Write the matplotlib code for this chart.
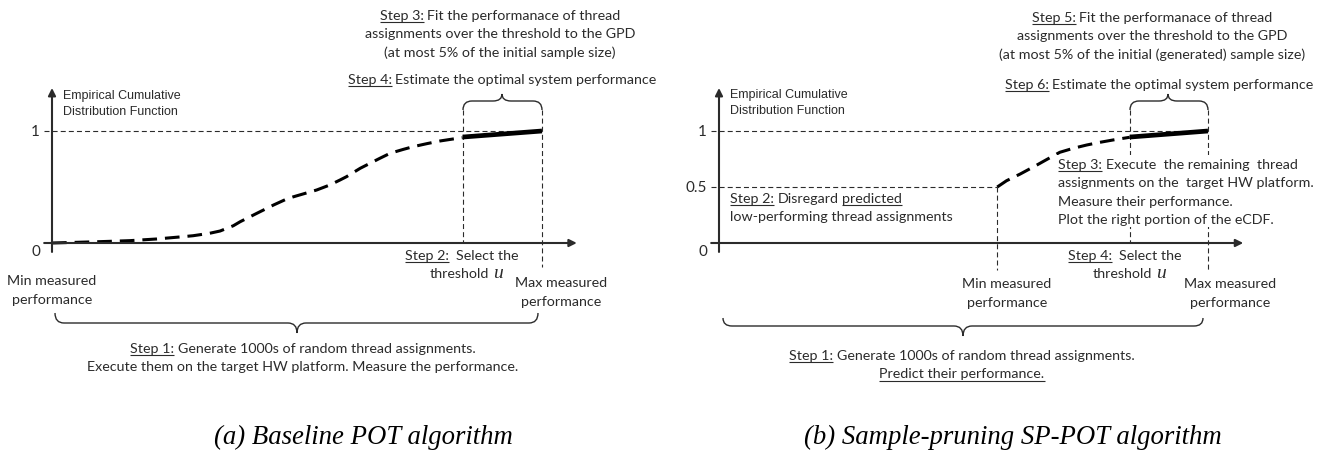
import matplotlib

matplotlib.use("Agg")
import matplotlib.pyplot as plt
from matplotlib.path import Path
from matplotlib.patches import PathPatch, Rectangle

W, H = 1326, 453

# eCDF curves; performance normalised so 0 = y axis, 1 = max measured performance
PERF_A = [0.0, 0.05, 0.098, 0.159, 0.214, 0.261, 0.288, 0.322, 0.343, 0.370, 0.384, 0.418,
          0.452, 0.479, 0.493, 0.540, 0.567, 0.588, 0.601, 0.629, 0.642, 0.669, 0.690, 0.717,
          0.737, 0.765, 0.792, 0.819, 0.838]
ECDF_A = [0.0, 0.006, 0.012, 0.021, 0.036, 0.054, 0.065, 0.087, 0.107, 0.154, 0.190, 0.265,
          0.339, 0.393, 0.413, 0.473, 0.518, 0.563, 0.592, 0.667, 0.696, 0.756, 0.801, 0.836,
          0.860, 0.887, 0.911, 0.929, 0.940]
TAIL_PERF_A = [0.838, 1.0]
TAIL_ECDF_A = [0.946, 1.0]

PERF_B = [0.569, 0.588, 0.616, 0.650, 0.677, 0.697, 0.724, 0.752, 0.779, 0.806, 0.840]
ECDF_B = [0.5, 0.556, 0.616, 0.696, 0.762, 0.810, 0.845, 0.875, 0.899, 0.920, 0.944]
TAIL_PERF_B = [0.840, 1.0]
TAIL_ECDF_B = [0.946, 1.0]

THRESH_A, THRESH_B = 0.838, 0.840
MIN_B = 0.569
PRUNE_LEVEL = 0.5

INK = "#2b2b2b"
STEP_FONT = "Lato"
STEP_SIZE = 10.3
GUIDE = dict(color=INK, lw=0.8, ls=(0, (4.5, 2.8)), clip_on=False)
U_STYLE = dict(family="Liberation Serif", style="italic", size=14)


def panel_axes(fig, x0, x1, y0, y1):
    """Axes whose unit square is the plot region given in pixels (y0 = ecdf 0, y1 = ecdf 1)."""
    ax = fig.add_axes([x0 / W, 1 - y0 / H, (x1 - x0) / W, (y0 - y1) / H])
    ax.set_xlim(0, 1)
    ax.set_ylim(0, 1)
    ax.axis("off")
    return ax


def draw_axes_arrows(ax, x_start, x_tip, y_bottom, y_tip):
    kw = dict(arrowstyle="-|>", lw=1.5, color=INK, mutation_scale=11, shrinkA=0, shrinkB=0)
    ax.annotate("", xy=(x_tip, 0), xytext=(x_start, 0), arrowprops=kw, annotation_clip=False)
    ax.annotate("", xy=(0, y_tip), xytext=(0, y_bottom), arrowprops=kw, annotation_clip=False)


def brace(ax, x0, x1, xm, y_end, y_bar, y_tip, r=9):
    verts = [(x0, y_end), (x0, y_bar), (x0 + r, y_bar),
             (xm - r, y_bar), (xm, y_bar), (xm, y_tip),
             (xm, y_bar), (xm + r, y_bar),
             (x1 - r, y_bar), (x1, y_bar), (x1, y_end)]
    codes = [Path.MOVETO, Path.CURVE3, Path.CURVE3,
             Path.LINETO, Path.CURVE3, Path.CURVE3,
             Path.CURVE3, Path.CURVE3,
             Path.LINETO, Path.CURVE3, Path.CURVE3]
    ax.add_patch(PathPatch(Path(verts, codes), fc="none", ec=INK, lw=1.0))


def font_kw(size, extra=None):
    kw = dict(fontsize=size, family=STEP_FONT)
    if extra:
        kw = dict(fontsize=extra.get("size", size), family=extra.get("family", STEP_FONT),
                  style=extra.get("style", "normal"))
    return kw


def text_width(ax, s, kw):
    t = ax.text(0, 0, s, **kw)
    w = t.get_window_extent(renderer).width
    t.remove()
    return w


def rich_line(ax, x, y, segs, ha="center", size=STEP_SIZE):
    """segs: list of (text, underline[, style]). Spaces between segments are explicit in text."""
    base_kw = font_kw(size)
    sp = text_width(ax, "a a", base_kw) - text_width(ax, "aa", base_kw)
    parts = []
    for seg in segs:
        s, under = seg[0], seg[1]
        kw = font_kw(size, seg[2] if len(seg) > 2 else None)
        core = s.strip(" ")
        w = text_width(ax, core, kw) if core else 0
        lead = len(s) - len(s.lstrip(" "))
        trail = len(s) - len(s.rstrip(" "))
        parts.append((core, under, kw, w, lead, trail))
    total = sum(w + (lead + trail) * sp for _, _, _, w, lead, trail in parts)
    cx = x - total / 2 if ha == "center" else x
    base = y + 5
    for core, under, kw, w, lead, trail in parts:
        cx += lead * sp
        if core:
            ax.text(cx, base, core, ha="left", va="baseline", color=INK, **kw)
            if under:
                ax.plot([cx, cx + w], [base + 2.2, base + 2.2], color=INK, lw=0.8,
                        solid_capstyle="butt")
        cx += w + trail * sp


def block(ax, x, y0, lines, ha="center", step=18.3, size=STEP_SIZE):
    for i, segs in enumerate(lines):
        xi = x[i] if isinstance(x, (list, tuple)) else x
        if isinstance(segs, str):
            segs = [(segs, False)]
        rich_line(ax, xi, y0 + i * step, segs, ha=ha, size=size)


fig = plt.figure(figsize=(W / 100, H / 100), dpi=100)
renderer = fig.canvas.get_renderer()

# ---- panel (a) ----
ax_a = panel_axes(fig, 52, 542, 243, 131)
draw_axes_arrows(ax_a, -0.016, 1.071, -0.08, 1.384)
ax_a.plot([-0.016, 1.0], [1, 1], **GUIDE)
ax_a.plot([THRESH_A, THRESH_A], [1.19, 0], **GUIDE)
ax_a.plot([1.0, 1.0], [1.19, -0.21], **GUIDE)
ax_a.plot(PERF_A, ECDF_A, color="black", lw=2.2, ls=(0, (4.8, 2.6)), clip_on=False)
ax_a.plot(TAIL_PERF_A, TAIL_ECDF_A, color="black", lw=3.4, solid_capstyle="butt", clip_on=False)

# ---- panel (b) ----
ax_b = panel_axes(fig, 719, 1208, 243, 131)
draw_axes_arrows(ax_b, -0.016, 1.072, -0.08, 1.384)
ax_b.plot([-0.016, 1.0], [1, 1], **GUIDE)
ax_b.plot([-0.016, MIN_B], [PRUNE_LEVEL, PRUNE_LEVEL], **GUIDE)
ax_b.plot([MIN_B, MIN_B], [PRUNE_LEVEL, -0.24], **GUIDE)
ax_b.plot([THRESH_B, THRESH_B], [1.19, 0], **GUIDE)
ax_b.plot([1.0, 1.0], [1.19, -0.24], **GUIDE)
ax_b.plot(PERF_B, ECDF_B, color="black", lw=2.2, ls=(0, (4.8, 2.6)), clip_on=False)
ax_b.plot(TAIL_PERF_B, TAIL_ECDF_B, color="black", lw=3.4, solid_capstyle="butt", clip_on=False)

# ---- overlay in pixel coordinates for labels and braces ----
ov = fig.add_axes([0, 0, 1, 1])
ov.set_xlim(0, W)
ov.set_ylim(H, 0)
ov.axis("off")

ylab = dict(ha="left", va="center", fontsize=9, family="Liberation Sans", color=INK)
ov.text(63, 96, "Empirical Cumulative", **ylab)
ov.text(63, 112, "Distribution Function", **ylab)
ov.text(730, 95, "Empirical Cumulative", **ylab)
ov.text(730, 111, "Distribution Function", **ylab)

tick = dict(ha="right", va="center", fontsize=11, family=STEP_FONT, color=INK)
ov.text(40, 132, "1", **tick)
ov.text(40, 252, "0", **tick)
ov.text(707, 132, "1", **tick)
ov.text(707, 188, "0.5", **tick)
ov.text(707, 252, "0", **tick)

# panel (a) annotations
block(ov, 500, 15, [[("Step 3:", True), (" Fit the performanace of thread", False)],
                    "assignments over the threshold to the GPD",
                    "(at most 5% of the initial sample size)"])
block(ov, 502, 79, [[("Step 4:", True), (" Estimate the optimal system performance", False)]])
brace(ov, 463, 542, 502, 110, 101, 94)
block(ov, [462, 466], 255, [[("Step 2:", True), ("  Select the", False)],
                            [("threshold ", False), ("u", False, U_STYLE)]])
block(ov, 52, 280, ["Min measured", "performance"], step=19.5)
block(ov, 561, 282, ["Max measured", "performance"], step=19.5)
brace(ov, 55, 538, 297, 313, 323, 333)
block(ov, 303, 348, [[("Step 1:", True), (" Generate 1000s of random thread assignments.", False)],
                     "Execute them on the target HW platform. Measure the performance."])

# panel (b) annotations
block(ov, 1152, 17, [[("Step 5:", True), (" Fit the performanace of thread", False)],
                     "assignments over the threshold to the GPD",
                     "(at most 5% of the initial (generated) sample size)"])
block(ov, 1159, 84, [[("Step 6:", True), (" Estimate the optimal system performance", False)]])
brace(ov, 1130, 1208, 1168, 110, 101, 94)
block(ov, 730, 198, [[("Step 2:", True), (" Disregard ", False), ("predicted", True)],
                     "low-performing thread assignments"], ha="left")
ov.add_patch(Rectangle((1055, 155), 222, 72, fc="white", ec="none"))
block(ov, 1058, 164, [[("Step 3:", True), (" Execute  the remaining  thread", False)],
                      "assignments on the  target HW platform.",
                      "Measure their performance.",
                      "Plot the right portion of the eCDF."], ha="left")
block(ov, [1125, 1129], 255, [[("Step 4:", True), ("  Select the", False)],
                              [("threshold ", False), ("u", False, U_STYLE)]])
block(ov, 1007, 283, ["Min measured", "performance"], step=19)
block(ov, 1230, 283, ["Max measured", "performance"], step=19)
brace(ov, 723, 1203, 963, 318, 326, 336)
block(ov, 962, 355, [[("Step 1:", True), (" Generate 1000s of random thread assignments.", False)],
                     [("Predict their performance.", True)]])

cap = dict(ha="center", va="center", fontsize=19.3, family="Liberation Serif",
           style="italic", color="black")
ov.text(363, 437, "(a) Baseline POT algorithm", **cap)
ov.text(1013, 437, "(b) Sample-pruning SP-POT algorithm", **cap)

fig.savefig("out.png", dpi=100)
